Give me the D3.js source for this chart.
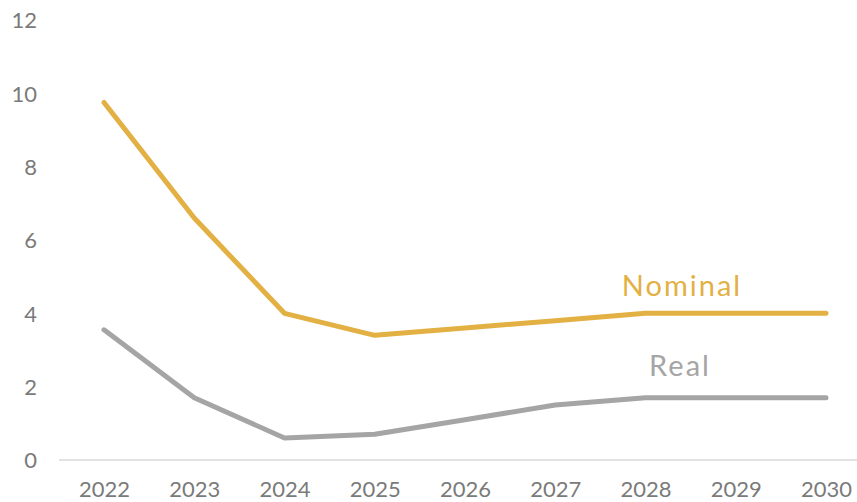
<!DOCTYPE html>
<html>
<head>
<meta charset="utf-8">
<script src="https://cdn.jsdelivr.net/npm/d3@7"></script>
<style>
  html, body { margin: 0; padding: 0; background: #fff; }
  svg text { font-family: "Lato", "Open Sans", sans-serif; }
</style>
</head>
<body>
<svg id="chart" width="857" height="502"></svg>
<script>
// Years on the category axis
const years = ["2022", "2023", "2024", "2025", "2026", "2027", "2028", "2029", "2030"];
// Growth rates, per cent
const nominal = [9.75, 6.6, 4.0, 3.4, 3.6, 3.8, 4.0, 4.0, 4.0];
const real = [3.55, 1.7, 0.6, 0.7, 1.1, 1.5, 1.7, 1.7, 1.7];
const yTicks = [0, 2, 4, 6, 8, 10, 12];

const svg = d3.select("#chart");

const x = d3.scalePoint().domain(years).range([104, 826]);
const y = d3.scaleLinear().domain([0, 12]).range([460, 20]);

// Baseline
svg.append("line")
  .attr("x1", 59).attr("x2", 857)
  .attr("y1", y(0)).attr("y2", y(0))
  .attr("stroke", "#d9d9d9").attr("stroke-width", 1.5);

// Y axis labels
const yAxis = svg.append("g").attr("transform", "translate(37,0)")
  .call(d3.axisLeft(y).tickValues(yTicks).tickSize(0).tickPadding(0));
yAxis.select(".domain").remove();
yAxis.selectAll("text")
  .attr("fill", "#7a7a7a").attr("font-size", 22).attr("dy", "0.35em");

// X axis labels
const xAxis = svg.append("g").attr("transform", `translate(0,${y(0)})`)
  .call(d3.axisBottom(x).tickSize(0).tickPadding(0));
xAxis.select(".domain").remove();
xAxis.selectAll("text")
  .attr("fill", "#7a7a7a").attr("font-size", 22).attr("dy", null).attr("y", 37);

const line = d3.line().x((d, i) => x(years[i])).y(d => y(d));

const series = [
  { name: "Nominal", values: nominal, color: "#e3b043", labelX: 682, labelY: 296 },
  { name: "Real", values: real, color: "#a5a5a5", labelX: 680, labelY: 376 }
];

series.forEach(s => {
  svg.append("path")
    .datum(s.values)
    .attr("d", line)
    .attr("fill", "none")
    .attr("stroke", s.color)
    .attr("stroke-width", 5)
    .attr("stroke-linecap", "round")
    .attr("stroke-linejoin", "round");
  svg.append("text")
    .attr("x", s.labelX).attr("y", s.labelY)
    .attr("text-anchor", "middle")
    .attr("fill", s.color)
    .attr("font-size", 29)
    .attr("letter-spacing", 2)
    .text(s.name);
});
</script>
</body>
</html>
